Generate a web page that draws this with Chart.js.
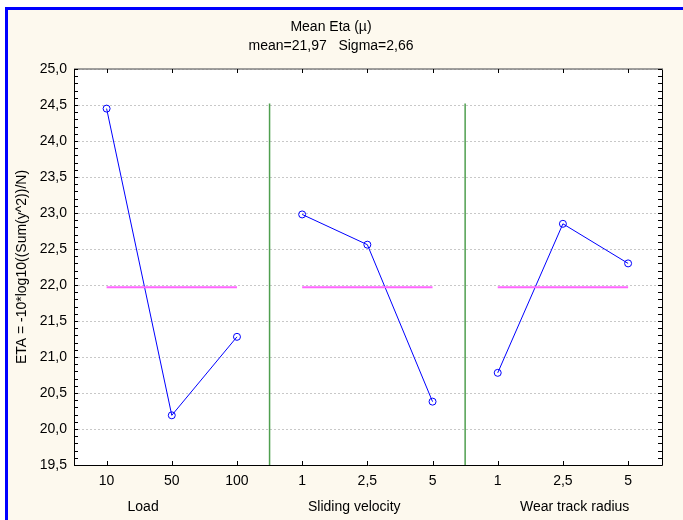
<!DOCTYPE html>
<html>
<head>
<meta charset="utf-8">
<script src="https://cdn.jsdelivr.net/npm/chart.js@4.4.1/dist/chart.umd.min.js"></script>
<style>
  html, body { margin: 0; padding: 0; background: #ffffff; }
  #frame {
    position: absolute; left: 5px; top: 7px; width: 678px; height: 513px;
    border-left: 3px solid #0000ff; border-top: 3px solid #0000ff;
    background: #fdf9ee; box-sizing: border-box;
  }
  #chart { position: absolute; left: 0; top: 0; }
</style>
</head>
<body>
<div id="frame"></div>
<canvas id="chart" width="683" height="520"></canvas>
<script>
// factor levels (x tick labels) and the mean eta for each level
const factorNames = ["Load", "Sliding velocity", "Wear track radius"];
const loadLevels = ["10", "50", "100"];
const velocityLevels = ["1", "2,5", "5"];
const radiusLevels = ["1", "2,5", "5"];
const loadEta = [24.45, 20.19, 21.28];
const velocityEta = [22.98, 22.56, 20.38];
const radiusEta = [20.78, 22.85, 22.30];
const meanEta = 21.97;
const sigmaEta = 2.66;

const xLabels = [...loadLevels, ...velocityLevels, ...radiusLevels];
const comma = (v, d) => v.toFixed(d).replace(".", ",");

// each factor group takes 3 slots on the x axis
function pts(values, group) {
    return values.map((v, i) => ({ x: group * 3 + i + 1, y: v }));
}
function meanLine(group) {
    return [{ x: group * 3 + 1, y: meanEta }, { x: group * 3 + 3, y: meanEta }];
}
function separator(group) {
    return [{ x: group * 3 + 3.5, y: 19.5 }, { x: group * 3 + 3.5, y: 24.52 }];
}

const lineStyle = {
    borderColor: "#0000ff",
    borderWidth: 1,
    pointStyle: "circle",
    pointRadius: 3.5,
    pointBorderWidth: 1,
    pointBorderColor: "#0000ff",
    pointBackgroundColor: "rgba(0,0,0,0)",
    tension: 0
};
const meanStyle = { borderColor: "#ff66ff", borderWidth: 2, pointRadius: 0 };
const sepStyle = { borderColor: "#4f9f4f", borderWidth: 1.5, pointRadius: 0 };

const frameAndLabels = {
    id: "frameAndLabels",
    beforeDatasetsDraw(chart) {
        const { ctx, chartArea: a } = chart;
        ctx.save();
        ctx.globalCompositeOperation = "destination-over";
        ctx.fillStyle = "#ffffff";
        ctx.fillRect(a.left, a.top, a.right - a.left, a.bottom - a.top);
        ctx.restore();
    },
    afterDraw(chart) {
        const { ctx, chartArea: a, scales } = chart;
        const xs = scales.x, ys = scales.y;
        ctx.save();
        ctx.lineWidth = 1;
        ctx.strokeStyle = "#000000";
        // frame
        ctx.beginPath();
        ctx.moveTo(a.left + 0.5, a.top);
        ctx.lineTo(a.left + 0.5, a.bottom + 0.5);
        ctx.lineTo(a.right + 0.5, a.bottom + 0.5);
        ctx.lineTo(a.right + 0.5, a.top);
        ctx.stroke();
        ctx.strokeStyle = "#808080";
        ctx.lineWidth = 1.5;
        ctx.beginPath();
        ctx.moveTo(a.left, a.top);
        ctx.lineTo(a.right + 1, a.top);
        ctx.stroke();
        // inward ticks
        ctx.strokeStyle = "#000000";
        ctx.lineWidth = 1;
        ctx.beginPath();
        for (let k = 0; k <= 55; k++) {
            const y = Math.round(ys.getPixelForValue(19.5 + k * 0.1)) + 0.5;
            ctx.moveTo(a.left, y); ctx.lineTo(a.left + 4, y);
            ctx.moveTo(a.right, y); ctx.lineTo(a.right - 4, y);
        }
        for (let i = 1; i <= xLabels.length; i++) {
            const x = Math.round(xs.getPixelForValue(i)) + 0.5;
            ctx.moveTo(x, a.bottom); ctx.lineTo(x, a.bottom - 4);
            ctx.moveTo(x, a.top); ctx.lineTo(x, a.top + 4);
        }
        ctx.stroke();
        // factor names under the tick labels
        ctx.fillStyle = "#000000";
        ctx.font = "14px Arial, 'Liberation Sans', sans-serif";
        ctx.textAlign = "center";
        ctx.textBaseline = "middle";
        const namePos = [1.56, 4.8, 8.18];
        factorNames.forEach((n, g) => {
            ctx.fillText(n, xs.getPixelForValue(namePos[g]), 507);
        });
        ctx.restore();
    }
};

const font = { family: "Arial, 'Liberation Sans', sans-serif", size: 14 };

new Chart(document.getElementById("chart").getContext("2d"), {
    type: "line",
    data: {
        datasets: [
            { data: separator(0), ...sepStyle },
            { data: separator(1), ...sepStyle },
            { data: meanLine(0), ...meanStyle },
            { data: meanLine(1), ...meanStyle },
            { data: meanLine(2), ...meanStyle },
            { data: pts(loadEta, 0), ...lineStyle },
            { data: pts(velocityEta, 1), ...lineStyle },
            { data: pts(radiusEta, 2), ...lineStyle }
        ]
    },
    options: {
        responsive: false,
        animation: false,
        layout: { padding: { left: 0, right: 21, top: 0, bottom: 0 } },
        plugins: {
            legend: { display: false },
            tooltip: { enabled: false },
            title: {
                display: true,
                text: "Mean Eta (\u00b5)",
                color: "#000000",
                font: { ...font, weight: "normal" },
                padding: { top: 19, bottom: 0 }
            },
            subtitle: {
                display: true,
                text: "mean=" + comma(meanEta, 2) + "   Sigma=" + comma(sigmaEta, 2),
                color: "#000000",
                font: { ...font, weight: "normal" },
                padding: { top: 2, bottom: 14.4 }
            }
        },
        scales: {
            x: {
                type: "linear",
                min: 0.5,
                max: 9.52,
                afterBuildTicks: (s) => { s.ticks = xLabels.map((_, i) => ({ value: i + 1 })); },
                afterFit: (s) => { s.height = 55; },
                grid: { display: false, drawTicks: false },
                border: { display: false },
                ticks: {
                    color: "#000000",
                    font: font,
                    padding: 8,
                    maxRotation: 0,
                    autoSkip: false,
                    callback: (v) => xLabels[v - 1]
                }
            },
            y: {
                min: 19.5,
                max: 25,
                afterFit: (s) => { s.width = 74; },
                grid: { color: "#c8c8c8", lineWidth: 1, drawTicks: false },
                border: { display: false, dash: [2, 2] },
                ticks: {
                    stepSize: 0.5,
                    color: "#000000",
                    font: font,
                    padding: 7,
                    callback: (v) => comma(v, 1)
                },
                title: {
                    display: true,
                    text: "ETA = -10*log10((Sum(y^2))/N)",
                    color: "#000000",
                    font: font,
                    padding: { top: 14, bottom: 0 }
                }
            }
        }
    },
    plugins: [frameAndLabels]
});
</script>
</body>
</html>
